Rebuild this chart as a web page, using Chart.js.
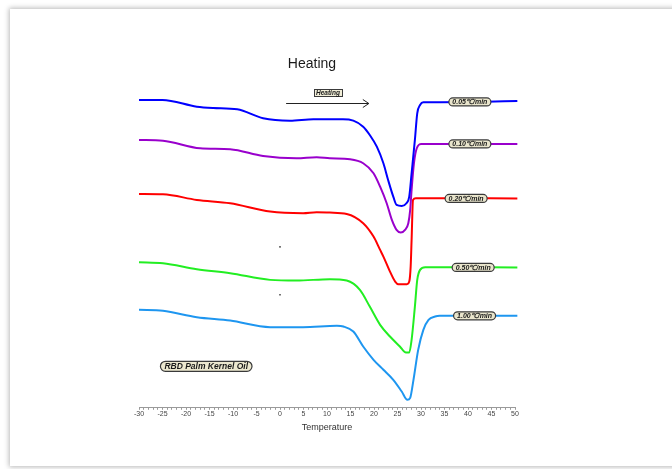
<!DOCTYPE html>
<html>
<head>
<meta charset="utf-8">
<script src="https://cdn.jsdelivr.net/npm/chart.js@4/dist/chart.umd.min.js"></script>
<style>
  html, body { margin: 0; padding: 0; background: #ffffff; width: 672px; height: 469px; overflow: hidden; }
  .card { position: absolute; left: 10px; top: 9px; width: 700px; height: 457px; background: #fff;
          box-shadow: 0 0 5px 1px rgba(0,0,0,0.28); }
  #wrap { position: absolute; left: 0; top: 0; width: 672px; height: 469px; }
</style>
</head>
<body>
<div class="card"></div>
<div id="wrap"><canvas id="c" width="672" height="469"></canvas></div>
<script>
// DSC heating thermograms of RBD palm kernel oil at five heating rates
const rateLabels = ['0.05\u2103/min', '0.10\u2103/min', '0.20\u2103/min', '0.50\u2103/min', '1.00\u2103/min'];
const seriesColors = ['#0000ff', '#9900cc', '#ff0000', '#22ee22', '#1e96f0'];

// temperature (°C) and heat-flow (arbitrary, offset per curve) pairs
const temp005 = [-30, -25, -17.7, -14.2, -9.1, -3.6, 2.1, 7.1, 13.4, 15.6, 17.7, 19.1, 20.6, 22.0, 23.0, 24.1, 24.8, 25.9, 26.9, 27.5, 28.0, 28.7, 29.2, 29.8, 30.5, 34, 42, 50.5];
const flow005 = [308, 308, 301.3, 300, 298.7, 289.7, 287.3, 288.7, 288.7, 287.3, 281.3, 273, 261.3, 244.7, 228, 211.3, 203, 202, 204.7, 211.3, 234.7, 268, 294.7, 303, 305.7, 305.7, 306, 307];

const temp010 = [-30, -24.9, -17, -10.6, -3.6, 3.5, 7.8, 10.6, 14.9, 17.7, 19.9, 21.3, 22.7, 23.8, 24.8, 25.7, 26.6, 27.3, 27.7, 28.0, 28.5, 29.1, 30.1, 34, 50.5];
const flow010 = [268, 267.3, 259.7, 258.7, 252, 249.7, 250.7, 249.7, 248.7, 244.7, 234.7, 221.3, 204.7, 188, 178, 175.3, 178, 184.7, 198, 218, 244.7, 259.7, 264, 264, 264];

const temp020 = [-30, -24.9, -17.7, -10.6, -2.1, 4.9, 7.8, 10.6, 14.2, 17.7, 19.9, 21.3, 22.0, 23.4, 24.5, 25.2, 27.0, 27.5, 27.8, 28.0, 28.3, 28.9, 34, 50.5];
const flow020 = [214, 213.7, 208, 204.7, 196.3, 194.7, 195.7, 195.3, 194, 184.7, 171.3, 158, 151.3, 136.3, 126.3, 123.7, 123.7, 126.3, 141.3, 168, 208, 209.7, 209.7, 209.5];

const temp050 = [-30, -24.9, -17.7, -10.6, -2.1, 3.5, 10.6, 14.2, 17.0, 19.1, 21.3, 23.4, 25.5, 26.8, 27.5, 28.0, 28.7, 29.2, 29.8, 30.9, 34, 50.5];
const flow050 = [145.7, 144.7, 138.7, 134.7, 128, 127.3, 128.7, 127.3, 118, 101.3, 83, 71.3, 61.3, 55.3, 55.3, 68, 101.3, 128, 138, 140.7, 140.7, 140.5];

const temp100 = [-30, -24.9, -17.7, -10.6, -2.1, 4.9, 12.1, 13.5, 15.6, 17.7, 19.9, 22.0, 24.1, 25.9, 27.1, 27.7, 28.4, 29.4, 30.5, 31.6, 33, 34, 50.5];
const flow100 = [98, 97, 90.7, 87.3, 80.7, 80.7, 82, 81.3, 76.3, 61.3, 48, 38, 28, 16.3, 8, 10, 28, 58, 78, 88, 91.3, 92, 92];

// where each rate tag sits along its curve
const tagTemps = [40.4, 40.4, 39.6, 41.1, 41.4];
const tagFlows = [306, 264, 209.5, 140.5, 92];

// two stray specks at 0 °C
const speckTemps = [0, 0];
const speckFlows = [161, 113];

const tickMin = -30, tickMax = 50, tickStep = 5;

function pairs(xs, ys) { return xs.map((x, i) => ({ x: x, y: ys[i] })); }
const curves = [pairs(temp005, flow005), pairs(temp010, flow010), pairs(temp020, flow020), pairs(temp050, flow050), pairs(temp100, flow100)];

const datasets = curves.map((d, i) => ({
  label: rateLabels[i],
  data: d,
  borderColor: seriesColors[i],
  borderWidth: 2,
  pointRadius: 0,
  fill: false,
  cubicInterpolationMode: 'monotone',
  clip: false
}));
datasets.push({
  label: 'specks',
  data: pairs(speckTemps, speckFlows),
  showLine: false,
  pointRadius: 0.8,
  pointBackgroundColor: '#222',
  pointBorderWidth: 0
});

function roundRect(ctx, x, y, w, h, r) {
  ctx.beginPath();
  ctx.moveTo(x + r, y);
  ctx.lineTo(x + w - r, y);
  ctx.arcTo(x + w, y, x + w, y + r, r);
  ctx.lineTo(x + w, y + h - r);
  ctx.arcTo(x + w, y + h, x + w - r, y + h, r);
  ctx.lineTo(x + r, y + h);
  ctx.arcTo(x, y + h, x, y + h - r, r);
  ctx.lineTo(x, y + r);
  ctx.arcTo(x, y, x + r, y, r);
  ctx.closePath();
}

function tag(ctx, text, cx, cy, font, padX, h, r, fill) {
  ctx.font = font;
  const w = ctx.measureText(text).width + padX * 2;
  roundRect(ctx, cx - w / 2, cy - h / 2, w, h, r);
  ctx.fillStyle = fill;
  ctx.fill();
  ctx.lineWidth = 1.2;
  ctx.strokeStyle = '#3a3a3a';
  ctx.stroke();
  ctx.fillStyle = '#1a1a1a';
  ctx.textAlign = 'center';
  ctx.textBaseline = 'middle';
  ctx.fillText(text, cx, cy + 0.5);
}

const annotations = {
  id: 'annotations',
  afterDatasetsDraw(chart) {
    const ctx = chart.ctx;
    const xs = chart.scales.x, ys = chart.scales.y;
    ctx.save();

    // chart heading
    ctx.font = '14px "Liberation Sans", Arial, sans-serif';
    ctx.fillStyle = '#1a1a1a';
    ctx.textAlign = 'center';
    ctx.textBaseline = 'middle';
    ctx.fillText('Heating', xs.getPixelForValue(6.8), ys.getPixelForValue(344));

    // heating direction arrow
    const ay = Math.round(ys.getPixelForValue(305)) + 0.5;
    const ax0 = xs.getPixelForValue(1.3), ax1 = xs.getPixelForValue(18.9);
    ctx.strokeStyle = '#222';
    ctx.lineWidth = 1;
    ctx.beginPath();
    ctx.moveTo(ax0, ay); ctx.lineTo(ax1, ay);
    ctx.moveTo(ax1 - 6, ay - 4); ctx.lineTo(ax1, ay); ctx.lineTo(ax1 - 6, ay + 4);
    ctx.stroke();

    // "Heating" tag above arrow
    ctx.font = 'italic bold 6.5px "Liberation Sans", Arial, sans-serif';
    const hx = xs.getPixelForValue(10.2), hy = ys.getPixelForValue(315.5);
    const hw = Math.round(ctx.measureText('Heating').width + 4);
    ctx.fillStyle = '#f1eed8';
    ctx.fillRect(Math.round(hx - hw / 2), Math.round(hy - 3.5), hw, 7);
    ctx.strokeStyle = '#3a3a3a';
    ctx.strokeRect(Math.round(hx - hw / 2) + 0.5, Math.round(hy - 3.5) + 0.5, hw, 7);
    ctx.fillStyle = '#1a1a1a';
    ctx.textAlign = 'center';
    ctx.textBaseline = 'middle';
    ctx.fillText('Heating', hx, hy + 1);

    // heating-rate tags on each curve
    rateLabels.forEach((t, i) => {
      tag(ctx, t, xs.getPixelForValue(tagTemps[i]), ys.getPixelForValue(tagFlows[i]),
          'italic bold 7px "Liberation Sans", Arial, sans-serif', 3.5, 8, 4, '#e9e5cc');
    });

    // sample name
    tag(ctx, 'RBD Palm Kernel Oil', xs.getPixelForValue(-15.7), ys.getPixelForValue(41.5),
        'italic bold 8.5px "Liberation Sans", Arial, sans-serif', 4, 10, 5, '#ece8cf');

    ctx.restore();
  }
};

new Chart(document.getElementById('c'), {
  type: 'line',
  data: { datasets: datasets },
  options: {
    responsive: false,
    animation: false,
    layout: { padding: { left: 139, right: 157, top: 58, bottom: 36 } },
    plugins: { legend: { display: false }, tooltip: { enabled: false }, title: { display: false } },
    scales: {
      x: {
        type: 'linear',
        min: tickMin, max: tickMax,
        border: { display: true, color: '#9a9a9a', width: 1 },
        grid: { drawOnChartArea: false, drawTicks: true, tickLength: 2, color: '#9a9a9a' },
        ticks: {
          stepSize: 1,
          autoSkip: false,
          maxRotation: 0,
          padding: 0,
          color: '#444',
          font: { size: 7, family: '"Liberation Sans", Arial, sans-serif' },
          callback: v => (v % tickStep === 0 ? String(v) : '')
        },
        title: {
          display: true,
          text: 'Temperature',
          color: '#333',
          font: { size: 9, family: '"Liberation Sans", Arial, sans-serif' },
          padding: { top: 4, bottom: 0 }
        }
      },
      y: { type: 'linear', min: 0, max: 350, display: false }
    }
  },
  plugins: [annotations]
});
</script>
</body>
</html>
